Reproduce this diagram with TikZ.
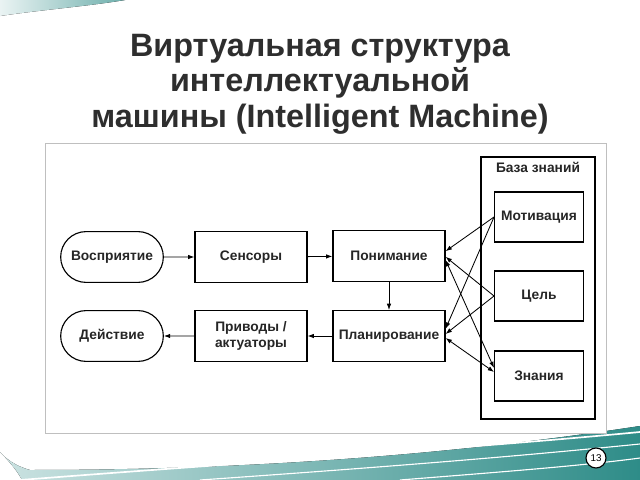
\documentclass[tikz,border=0pt]{standalone}
\usepackage{fontspec}
\setmainfont{Liberation Sans}
\usetikzlibrary{positioning,shapes.misc,arrows.meta}
\definecolor{slideteal}{HTML}{2E8C88}
\definecolor{titlegray}{HTML}{2E2E2E}

\begin{document}
\begin{tikzpicture}[x=0.025cm,y=-0.025cm,
    txt/.style={font=\fontsize{9.8}{11.5}\selectfont\bfseries,text=black!85},
    box/.style={draw,line width=0.8pt,txt,minimum width=2.8cm,minimum height=1.27cm,align=center},
    term/.style={box,rounded rectangle},
    kbox/.style={box,minimum width=2.22cm,minimum height=1.25cm},
    arr/.style={line width=0.6pt,-{Latex[length=4.5pt,width=3.2pt]}},
    darr/.style={line width=0.6pt,{Latex[length=4.5pt,width=3.2pt]}-{Latex[length=4.5pt,width=3.2pt]}}]
  \useasboundingbox (0,0) rectangle (640,480);
  % slide background
  \fill[white] (0,0) rectangle (640,480);
  \fill[left color=slideteal!10,right color=slideteal!70] (0,0) -- (125,0) .. controls (90,6) and (40,10) .. (0,16) -- cycle;
  \fill[left color=slideteal!25,right color=slideteal] (0,452) .. controls (10,462) and (18,472) .. (22,480) -- (640,480) -- (640,426) .. controls (450,455) and (250,470) .. (30,470) .. controls (15,466) and (5,458) .. (0,452) -- cycle;
  \draw[white,line width=1.2pt] (20,480) .. controls (250,462) and (450,450) .. (640,432);
  \draw[white,line width=0.8pt] (200,480) .. controls (400,466) and (520,456) .. (640,444);
  \draw[white,line width=0.8pt] (400,480) .. controls (500,472) and (580,466) .. (640,458);
  % title
  \node[font=\fontsize{23}{25.2}\selectfont\bfseries,text=titlegray,align=center] (title) at (320,84)
    {Виртуальная структура\\интеллектуальной\\машины (Intelligent Machine)};
  % panel
  \draw[fill=white,draw=black!25,line width=0.6pt] (45,143) rectangle (606,433);
  % left part
  \node[term] (perc) at (112,257) {Восприятие};
  \node[box] (sens) at (251,257) {Сенсоры};
  \node[box] (under) at (389,256) {Понимание};
  \node[term] (act) at (112,336) {Действие};
  \node[box] (drive) at (251,336) {Приводы /\\актуаторы};
  \node[box] (plan) at (389,336) {Планирование};
  % knowledge base
  \node[draw,line width=0.8pt,minimum width=2.85cm,minimum height=6.55cm] (kb) at (538,288) {};
  \node[txt] (kbtitle) at (538,167) {База знаний};
  \node[kbox] (motiv) at (539,217) {Мотивация};
  \node[kbox] (goal) at (539,296) {Цель};
  \node[kbox] (know) at (539,376) {Знания};
  % connectors
  \draw[arr] (perc) -- (sens);
  \draw[arr] (sens) -- (under);
  \draw[arr] (under) -- (plan);
  \draw[arr] (plan) -- (drive);
  \draw[arr] (drive) -- (act);
  \draw[arr] (motiv.west) -- ([yshift=0.12cm]under.east);
  \draw[arr] (motiv.west) -- ([yshift=0.18cm]plan.east);
  \draw[arr] (goal.west) -- ([yshift=-0.02cm]under.east);
  \draw[arr] (goal.west) -- ([yshift=0.05cm]plan.east);
  \draw[darr] ([yshift=-0.1cm]under.east) -- ([yshift=0.2cm]know.west);
  \draw[darr] ([yshift=-0.05cm]plan.east) -- ([yshift=0.1cm]know.west);
  % page number
  \node[circle,draw,line width=0.8pt,fill=white,inner sep=0pt,minimum size=0.5cm,font=\fontsize{7}{8}\selectfont] (pnum) at (596,458) {13};
\end{tikzpicture}
\end{document}
